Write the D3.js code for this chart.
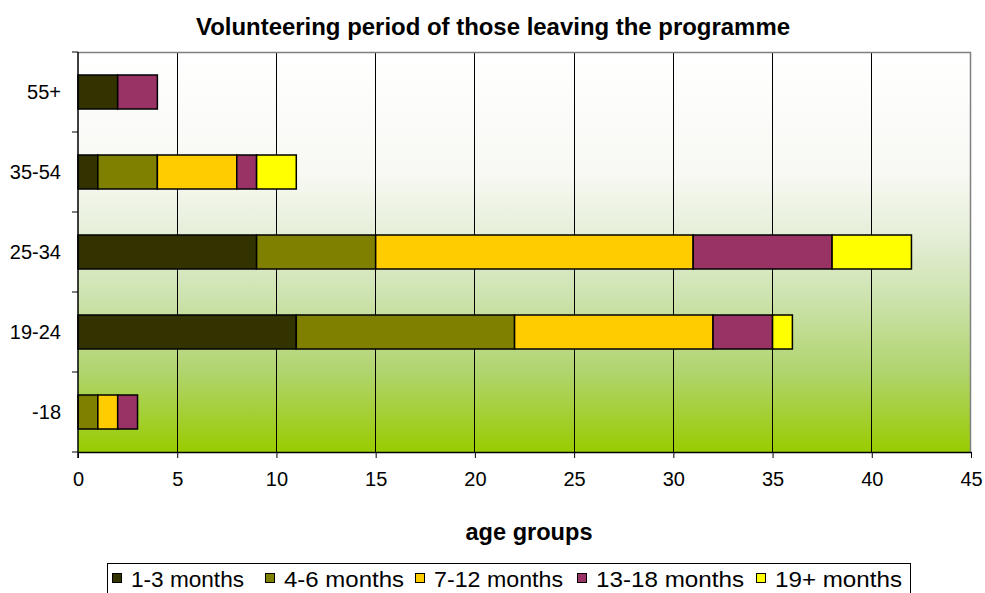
<!DOCTYPE html>
<html>
<head>
<meta charset="utf-8">
<script src="https://cdn.jsdelivr.net/npm/d3@7/dist/d3.min.js"></script>
<style>
  html, body { margin: 0; padding: 0; background: #fff; }
  svg { display: block; font-family: "Liberation Sans", Arial, sans-serif; }
</style>
</head>
<body>
<svg id="chart" width="985" height="593"></svg>
<script>
// Age groups, top to bottom
const categories = ["55+", "35-54", "25-34", "19-24", "-18"];
// Volunteering periods (stack order, left to right)
const seriesNames = ["1-3 months", "4-6 months", "7-12 months", "13-18 months", "19+ months"];
const seriesColors = ["#333300", "#808000", "#ffcc00", "#993366", "#ffff00"];
// Number of leavers per age group, one array per period
const m1_3   = [2, 1, 9, 11, 0];
const m4_6   = [0, 3, 6, 11, 1];
const m7_12  = [0, 4, 16, 10, 1];
const m13_18 = [2, 1, 7, 3, 1];
const m19p   = [0, 2, 4, 1, 0];
const xTicks = [0, 5, 10, 15, 20, 25, 30, 35, 40, 45];

const seriesValues = [m1_3, m4_6, m7_12, m13_18, m19p];
const rows = categories.map((c, i) => {
  const r = { group: c };
  seriesNames.forEach((s, j) => r[s] = seriesValues[j][i]);
  return r;
});

const svg = d3.select("#chart");
const plot = { left: 78, top: 52, right: 971, bottom: 452 };

const x = d3.scaleLinear().domain([0, 45]).range([plot.left, plot.right]);
const y = d3.scaleBand().domain(categories).range([plot.top, plot.bottom]).paddingInner(0.575).paddingOuter(0.2875);

// Background gradient of the plot area
const defs = svg.append("defs");
const grad = defs.append("linearGradient").attr("id", "bg").attr("x1", 0).attr("y1", 0).attr("x2", 0).attr("y2", 1);
[[0, "#ffffff"], [0.3, "#f8f9f4"], [0.45, "#e6efd9"], [0.6, "#cfe4b2"], [0.8, "#b0d46e"], [1, "#99cc00"]]
  .forEach(([o, c]) => grad.append("stop").attr("offset", o).attr("stop-color", c));

svg.append("rect")
  .attr("x", plot.left).attr("y", plot.top)
  .attr("width", plot.right - plot.left).attr("height", plot.bottom - plot.top)
  .attr("fill", "url(#bg)");

// Vertical gridlines
svg.append("g").selectAll("line").data(xTicks.slice(1, -1)).join("line")
  .attr("x1", d => x(d)).attr("x2", d => x(d))
  .attr("y1", plot.top).attr("y2", plot.bottom)
  .attr("stroke", "#000").attr("stroke-width", 1).attr("shape-rendering", "crispEdges");

// Top and right border of plot area
svg.append("path")
  .attr("d", `M${plot.left},${plot.top + 0.5}H${plot.right - 0.5}V${plot.bottom}`)
  .attr("fill", "none").attr("stroke", "#808080").attr("stroke-width", 1.5);

// Stacked bars
const stack = d3.stack().keys(seriesNames)(rows);
svg.append("g").selectAll("g").data(stack).join("g")
  .attr("fill", (d, i) => seriesColors[i])
  .selectAll("rect").data(d => d.filter(p => p[1] - p[0] > 0)).join("rect")
  .attr("x", d => x(d[0]))
  .attr("y", d => y(d.data.group))
  .attr("width", d => x(d[1]) - x(d[0]))
  .attr("height", y.bandwidth())
  .attr("stroke", "#000").attr("stroke-width", 1.5);

// X axis
const xAxis = svg.append("g").attr("transform", `translate(0,${plot.bottom})`)
  .call(d3.axisBottom(x).tickValues(xTicks).tickSize(6).tickSizeOuter(0).tickPadding(14));
xAxis.select(".domain").attr("stroke", "#000").attr("stroke-width", 1.5);
xAxis.selectAll(".tick line").attr("stroke", "#000");
xAxis.selectAll("text").attr("font-size", 20).attr("fill", "#000").attr("font-family", "Liberation Sans, Arial, sans-serif");

// Y axis: ticks at category boundaries, labels at centres
const yAxisG = svg.append("g");
yAxisG.append("line").attr("x1", plot.left).attr("x2", plot.left)
  .attr("y1", plot.top).attr("y2", plot.bottom + 6).attr("stroke", "#000").attr("stroke-width", 1.5);
const boundaries = d3.range(categories.length + 1).map(i => plot.top + i * (plot.bottom - plot.top) / categories.length);
yAxisG.selectAll("line.tk").data(boundaries).join("line").attr("class", "tk")
  .attr("x1", plot.left - 6).attr("x2", plot.left)
  .attr("y1", d => d).attr("y2", d => d).attr("stroke", "#000");
yAxisG.selectAll("text").data(categories).join("text")
  .attr("x", plot.left - 17)
  .attr("y", d => y(d) + y.bandwidth() / 2)
  .attr("dy", "0.35em").attr("text-anchor", "end")
  .attr("font-size", 20).text(d => d);

// Title
svg.append("text").attr("x", 493).attr("y", 35).attr("text-anchor", "middle")
  .attr("font-size", 24).attr("font-weight", "bold")
  .attr("textLength", 594).attr("lengthAdjust", "spacingAndGlyphs")
  .text("Volunteering period of those leaving the programme");

// Axis title
svg.append("text").attr("x", 529).attr("y", 540).attr("text-anchor", "middle")
  .attr("font-size", 24).attr("font-weight", "bold")
  .attr("textLength", 127).attr("lengthAdjust", "spacingAndGlyphs")
  .text("age groups");

// Legend
const legend = svg.append("g");
legend.append("rect").attr("x", 107.5).attr("y", 563.5).attr("width", 803).attr("height", 40)
  .attr("fill", "#fff").attr("stroke", "#000").attr("stroke-width", 1);
const legendX = [112, 265, 415, 577, 756];
const legendW = [113, 120, 129, 148, 127];
seriesNames.forEach((s, i) => {
  const g = legend.append("g").attr("transform", `translate(${legendX[i]},0)`);
  g.append("rect").attr("x", 0.5).attr("y", 573.5).attr("width", 9).attr("height", 9)
    .attr("fill", seriesColors[i]).attr("stroke", "#000").attr("stroke-width", 1);
  g.append("text").attr("x", 19).attr("y", 586.5).attr("font-size", 22)
    .attr("textLength", legendW[i]).attr("lengthAdjust", "spacingAndGlyphs").text(s);
});
</script>
</body>
</html>
